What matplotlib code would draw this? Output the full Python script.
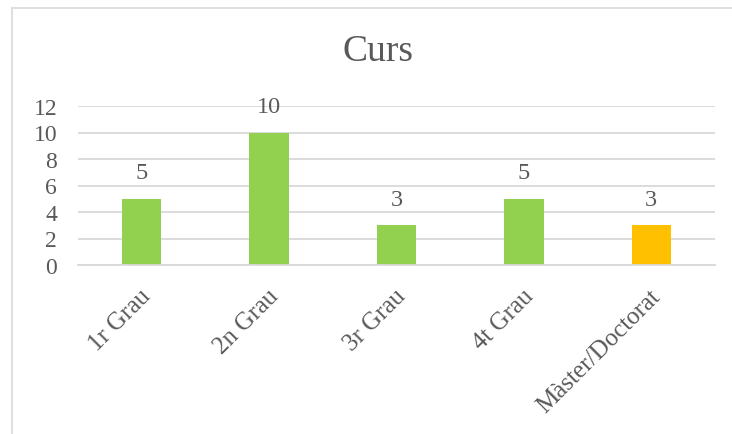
import matplotlib
matplotlib.use("Agg")
import matplotlib.pyplot as plt
from matplotlib.lines import Line2D
from matplotlib.transforms import ScaledTranslation

categories = ["1r Grau", "2n Grau", "3r Grau", "4t Grau", "Màster/Doctorat"]
values = [5, 10, 3, 5, 3]
colors = ["#92D050", "#92D050", "#92D050", "#92D050", "#FFC000"]
yticks = [0, 2, 4, 6, 8, 10, 12]

W, H = 732, 435
TXT = "#595959"
plt.rcParams["font.family"] = ["Liberation Serif", "DejaVu Serif"]

fig = plt.figure(figsize=(W / 100, H / 100), dpi=100)
# axes box in pixels: x 78..715, y 107 (12) .. 266 (0)
ax = fig.add_axes([78 / W, 1 - 266 / H, (715 - 78) / W, (266 - 107) / H])

x = range(len(categories))
ax.bar(x, values, width=0.31, color=colors, zorder=3)
for xi, v in zip(x, values):
    ax.annotate(str(v), (xi, v), xytext=(0, 11), textcoords="offset points",
                ha="center", va="bottom", fontsize=17.5, color=TXT)

ax.set_xlim(-0.5, len(categories) - 0.5)
ax.set_ylim(0, 12)
ax.set_yticks(yticks)
ax.set_yticklabels([str(t) for t in yticks], fontsize=17, color=TXT)
ax.set_xticks(list(x))
ax.set_xticklabels(categories, fontsize=18, color=TXT, rotation=45,
                   ha="right", va="center", rotation_mode="anchor")
ax.tick_params(axis="both", length=0)
ax.tick_params(axis="y", pad=15)
ax.tick_params(axis="x", pad=20)
shift = ScaledTranslation(6 / 100, 0, fig.dpi_scale_trans)
for lab in ax.get_xticklabels():
    lab.set_transform(lab.get_transform() + shift)
ax.grid(axis="y", color="#D9D9D9", linewidth=1.3, zorder=0)
for s in ["top", "right", "left"]:
    ax.spines[s].set_visible(False)
ax.spines["bottom"].set_color("#D9D9D9")
ax.spines["bottom"].set_linewidth(1.3)
ax.spines["bottom"].set_zorder(4)

fig.text(378 / W, 1 - 52 / H, "Curs", ha="center", va="center",
         fontsize=27, color=TXT)

# chart frame (only top and left visible)
fig.add_artist(Line2D([12 / W, 12 / W], [0, 1 - 9 / H], color="#D9D9D9", linewidth=1.2))
fig.add_artist(Line2D([12 / W, 1], [1 - 9 / H, 1 - 9 / H], color="#D9D9D9", linewidth=1.2))

fig.savefig("out.png", dpi=100)
